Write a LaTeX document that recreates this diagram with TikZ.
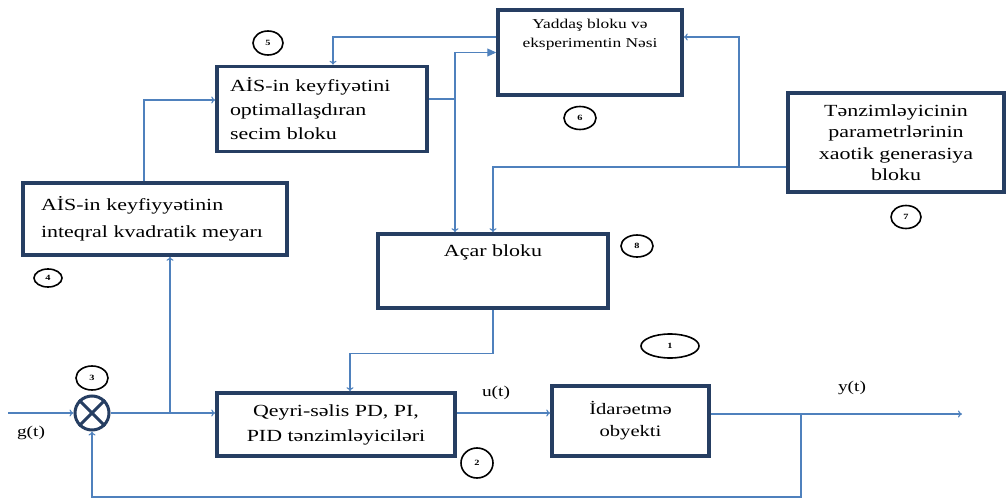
\documentclass[tikz,border=0pt]{standalone}
\usepackage{fontspec}
\setmainfont{Liberation Serif}[FakeStretch=1.29]
\usetikzlibrary{arrows.meta,shapes.geometric}

\definecolor{lineblue}{RGB}{79,129,189}
\definecolor{boxnavy}{RGB}{38,62,98}

\begin{document}
\begin{tikzpicture}[x=1pt, y=-1pt,
	blok/.style={draw=boxnavy, line width=3.5pt, inner sep=0pt, font=\fontsize{17}{23}\selectfont},
	intxt/.style={anchor=north, align=center, inner sep=0pt},
	wire/.style={draw=lineblue, line width=1.1pt},
	sig/.style={wire, -{To[length=4pt,width=7pt]}},
	numc/.style={draw, ellipse, line width=1.6pt, inner sep=0pt, font=\fontsize{8}{8}\selectfont\bfseries},
	lbl/.style={font=\fontsize{15}{15}\selectfont}]

	\useasboundingbox (0,0) rectangle (1006,500);

	% ============ BLOCKS ============

	\node[blok, minimum width=184pt, minimum height=85pt,
		label={[intxt, yshift=-11pt, font=\fontsize{13.5}{19}\selectfont]north:Yaddaş bloku və\\eksperimentin Nəsi}] (yad) at (590,52.5) {};
	\node[blok, minimum width=210pt, minimum height=85pt, text width=184pt, align=left, font=\fontsize{17}{24}\selectfont] (sec) at (322,109)
		{AİS-in keyfiyətini\\optimallaşdıran\\secim bloku};
	\node[blok, minimum width=264pt, minimum height=72pt, text width=228pt, align=left, font=\fontsize{17}{27}\selectfont] (kri) at (155,219)
		{AİS-in keyfiyyətinin\\inteqral kvadratik meyarı};
	\node[blok, minimum width=216pt, minimum height=99pt, align=center, font=\fontsize{17}{21.5}\selectfont] (gen) at (896,142.5)
		{Tənzimləyicinin\\parametrlərinin\\xaotik generasiya\\bloku};
	\node[blok, minimum width=230pt, minimum height=74pt,
		label={[intxt, yshift=-12pt, font=\fontsize{17}{23}\selectfont]north:Açar bloku}] (acar) at (493,271) {};
	\node[blok, minimum width=238pt, minimum height=63pt, align=center, font=\fontsize{17}{25}\selectfont] (pid) at (336,424.5)
		{Qeyri-səlis PD, PI,\\PID tənzimləyiciləri};
	\node[blok, minimum width=157pt, minimum height=70pt, align=center, font=\fontsize{16}{22}\selectfont] (obj) at (630.5,421)
		{İdarəetmə\\obyekti};

	% Summing junction
	\node[draw=boxnavy, circle, line width=3pt, minimum size=34pt, inner sep=0pt] (sum) at (92,413) {};
	\draw[boxnavy, line width=3pt] (sum.north west) -- (sum.south east);
	\draw[boxnavy, line width=3pt] (sum.north east) -- (sum.south west);

	% Numbers
	\foreach \n/\x/\y/\w/\h in {1/670/346/58/24, 2/477/463/32/30, 3/92/378/32/24, 4/48/278/28/18,
		5/268/43/30/24, 6/580/118/32/23, 7/906/217/30/23, 8/637/246/32/22} {
		\node[numc, minimum width=\w pt, minimum height=\h pt] (num\n) at (\x,\y) {\n};
	}

	% ============ CONNECTIONS ============

	\coordinate (in) at (8,413);
	\coordinate (out) at (962,414);
	\coordinate (j1) at (455,99);
	\coordinate (j2) at (739,167);
	\coordinate (b1) at (170,413);
	\coordinate (j3) at (801,414);

	% main loop
	\draw[sig] (in) -- (sum.west);
	\draw[sig] (sum.east) -- (sum.east -| pid.west);
	\draw[sig] (pid.east |- 0,413) -- (obj.west |- 0,413);
	\draw[sig] (obj.east |- 0,414) -- (out);
	\draw[sig] (j3) -- ++(0,83) -| (sum.south);

	% upper part
	\draw[sig] (b1) -- (b1 |- kri.south);
	\draw[sig] ([xshift=-11pt]kri.north) |- (sec.west |- 0,100);
	\draw[wire] (sec.east |- j1) -- (j1);
	\draw[wire, -{Triangle[length=9pt,width=8pt]}] (j1) |- (yad.west);
	\draw[sig] (j1) -- (j1 |- acar.north);
	\draw[sig] ([yshift=15.5pt]yad.west) -| ([xshift=11pt]sec.north);
	\draw[sig] ([yshift=-24.5pt]gen.west) -| (acar.north);
	\draw[sig] (j2) |- ([yshift=15.5pt]yad.east);
	\draw[sig] (acar.south) -- ++(0,44) -| ([xshift=14pt]pid.north);

	% Labels
	\node[lbl] (gt) at (31,433) {g(t)};
	\node[lbl] (ut) at (496,393) {u(t)};
	\node[lbl] (yt) at (852,388) {y(t)};

\end{tikzpicture}
\end{document}
